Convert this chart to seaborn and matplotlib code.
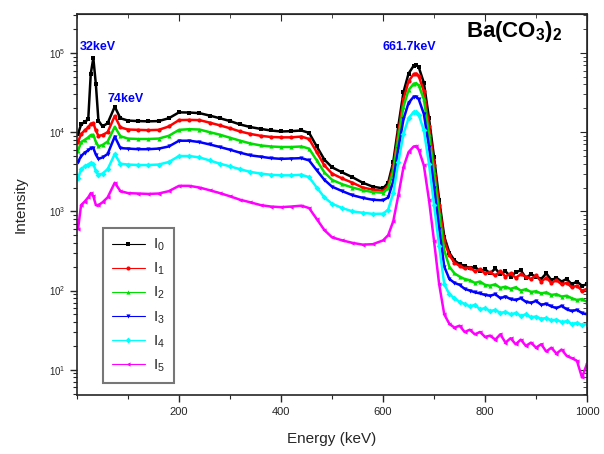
import matplotlib
matplotlib.use("Agg")
import matplotlib.pyplot as plt
import matplotlib.ticker as mticker
import seaborn as sns

# energy grid (keV)
energy = [2, 8, 15, 22, 27, 32, 37, 42, 50, 60,
          74, 85, 100, 120, 140, 160, 180, 200, 220, 240,
          260, 280, 300, 320, 340, 360, 380, 400, 420, 440,
          455, 470, 485, 500, 520, 540, 560, 580, 600, 610,
          620, 630, 640, 650, 660, 665, 670, 680, 690, 700,
          710, 720, 730, 740, 750, 760, 770, 780, 790, 800,
          810, 820, 830, 840, 850, 860, 870, 880, 890, 900,
          910, 920, 930, 940, 950, 960, 970, 980, 990, 1000]

i0 = [9.5e3, 1.25e4, 1.35e4, 1.45e4, 5.5e4, 8.6e4, 4.0e4, 1.4e4, 1.18e4, 1.3e4,
      2.1e4, 1.5e4, 1.4e4, 1.38e4, 1.37e4, 1.38e4, 1.5e4, 1.78e4, 1.77e4, 1.74e4,
      1.62e4, 1.5e4, 1.38e4, 1.25e4, 1.16e4, 1.1e4, 1.05e4, 1.02e4, 1.03e4, 1.05e4,
      9.8e3, 6.6e3, 4.5e3, 3.6e3, 3.1e3, 2.7e3, 2.3e3, 2.05e3, 1.95e3, 2.3e3,
      4.2e3, 1.2e4, 3.2e4, 5.5e4, 6.9e4, 7.05e4, 6.6e4, 4.2e4, 1.5e4, 4.8e3,
      1.4e3, 480, 300, 240, 215, 205, 190, 200, 175, 185,
      165, 190, 160, 175, 150, 170, 180, 145, 160, 150,
      140, 165, 135, 145, 130, 140, 120, 130, 115, 120]

i1 = [7.5e3, 9.5e3, 1.05e4, 1.15e4, 1.28e4, 1.3e4, 1.05e4, 9.0e3, 9.2e3, 1.0e4,
      1.6e4, 1.15e4, 1.08e4, 1.07e4, 1.06e4, 1.07e4, 1.18e4, 1.42e4, 1.43e4, 1.42e4,
      1.32e4, 1.22e4, 1.12e4, 1.02e4, 9.5e3, 9.0e3, 8.7e3, 8.6e3, 8.6e3, 8.8e3,
      8.2e3, 5.6e3, 3.8e3, 3.0e3, 2.6e3, 2.3e3, 2.0e3, 1.88e3, 1.82e3, 2.1e3,
      3.6e3, 1.0e4, 2.6e4, 4.4e4, 5.4e4, 5.5e4, 5.1e4, 3.3e4, 1.2e4, 3.9e3,
      1.2e3, 420, 280, 225, 205, 190, 195, 175, 185, 165,
      170, 155, 175, 150, 165, 145, 160, 150, 140, 155,
      130, 145, 125, 135, 120, 125, 110, 115, 100, 105]

i2 = [5.8e3, 7.5e3, 8.0e3, 8.6e3, 9.2e3, 9.3e3, 7.5e3, 6.6e3, 6.9e3, 7.6e3,
      1.17e4, 8.9e3, 8.3e3, 8.2e3, 8.2e3, 8.3e3, 9.0e3, 1.07e4, 1.09e4, 1.08e4,
      1.0e4, 9.3e3, 8.5e3, 7.8e3, 7.2e3, 6.8e3, 6.6e3, 6.5e3, 6.5e3, 6.6e3,
      6.2e3, 4.4e3, 3.1e3, 2.5e3, 2.2e3, 2.0e3, 1.85e3, 1.75e3, 1.72e3, 1.95e3,
      3.2e3, 8.5e3, 2.1e4, 3.4e4, 4.1e4, 4.15e4, 3.9e4, 2.6e4, 9.5e3, 3.1e3,
      950, 320, 200, 165, 150, 140, 135, 125, 130, 118,
      115, 120, 108, 112, 105, 110, 100, 104, 96, 98,
      92, 95, 88, 90, 84, 86, 80, 76, 78, 72]

i3 = [4.2e3, 5.0e3, 5.5e3, 5.9e3, 6.3e3, 6.3e3, 5.2e3, 4.6e3, 4.8e3, 5.3e3,
      8.8e3, 6.3e3, 6.2e3, 6.1e3, 6.1e3, 6.2e3, 6.6e3, 7.8e3, 7.8e3, 7.5e3,
      7.0e3, 6.5e3, 6.0e3, 5.5e3, 5.1e3, 4.9e3, 4.7e3, 4.6e3, 4.65e3, 4.7e3,
      4.4e3, 3.3e3, 2.5e3, 2.05e3, 1.8e3, 1.6e3, 1.48e3, 1.4e3, 1.38e3, 1.5e3,
      2.4e3, 6.2e3, 1.45e4, 2.35e4, 2.8e4, 2.8e4, 2.6e4, 1.7e4, 6.5e3, 2.0e3,
      600, 200, 140, 125, 118, 105, 100, 95, 92, 88,
      86, 90, 80, 84, 78, 76, 80, 72, 70, 74,
      66, 68, 63, 60, 64, 58, 55, 57, 52, 50]

i4 = [2.6e3, 3.4e3, 3.7e3, 3.9e3, 4.1e3, 4.0e3, 3.2e3, 2.9e3, 3.0e3, 3.4e3,
      5.3e3, 4.0e3, 3.9e3, 3.85e3, 3.85e3, 3.9e3, 4.2e3, 5.0e3, 5.0e3, 4.8e3,
      4.4e3, 4.0e3, 3.7e3, 3.4e3, 3.15e3, 3.0e3, 2.9e3, 2.85e3, 2.85e3, 2.9e3,
      2.7e3, 2.0e3, 1.5e3, 1.25e3, 1.1e3, 1.0e3, 960, 930, 935, 1.05e3,
      1.7e3, 4.2e3, 9.5e3, 1.5e4, 1.8e4, 1.8e4, 1.65e4, 1.05e4, 4.0e3, 1.2e3,
      360, 120, 90, 80, 72, 68, 63, 66, 58, 60,
      55, 57, 52, 54, 50, 52, 48, 50, 46, 47,
      44, 45, 42, 43, 40, 41, 38, 39, 37, 38]

i5 = [600, 1.2e3, 1.33e3, 1.5e3, 1.7e3, 1.55e3, 1.2e3, 1.2e3, 1.3e3, 1.5e3,
      2.3e3, 1.8e3, 1.7e3, 1.68e3, 1.66e3, 1.68e3, 1.8e3, 2.1e3, 2.1e3, 2.0e3,
      1.85e3, 1.7e3, 1.55e3, 1.4e3, 1.3e3, 1.2e3, 1.15e3, 1.13e3, 1.15e3, 1.18e3,
      1.1e3, 800, 580, 470, 430, 400, 380, 385, 430, 500,
      750, 1.6e3, 3.6e3, 5.6e3, 6.6e3, 6.6e3, 6.0e3, 3.8e3, 1.4e3, 420,
      120, 50, 38, 34, 36, 30, 32, 28, 30, 26,
      27, 24, 28, 22, 25, 21, 24, 20, 22, 19,
      21, 17, 19, 16, 18, 15, 14, 13, 8, 12]

series = [i0, i1, i2, i3, i4, i5]
labels = [r"$\mathregular{I_0}$", r"$\mathregular{I_1}$", r"$\mathregular{I_2}$",
          r"$\mathregular{I_3}$", r"$\mathregular{I_4}$", r"$\mathregular{I_5}$"]
colors = ["black", "red", "#00dd00", "blue", "cyan", "magenta"]
markers = ["s", "o", "^", "v", "D", "<"]

sns.set_style("ticks")
plt.rcParams["font.family"] = ["Liberation Sans", "DejaVu Sans"]
plt.rcParams["mathtext.fontset"] = "custom"
plt.rcParams["mathtext.rm"] = "Liberation Sans"
plt.rcParams["mathtext.bf"] = "Liberation Sans:bold"

fig = plt.figure(figsize=(6.04, 4.54), dpi=100)
ax = fig.add_axes([0.1275, 0.130, 0.8445, 0.839])

for vals, lab, col, mk in zip(series, labels, colors, markers):
    sns.lineplot(x=energy, y=vals, ax=ax, color=col, marker=mk, markersize=3,
                 markeredgewidth=0, linewidth=1.8, label=lab, sort=False,
                 estimator=None)

ax.set_yscale("log")
ax.set_xlim(0, 1000)
ax.set_ylim(4.8, 3.1e5)

ax.xaxis.set_major_locator(mticker.FixedLocator([200, 400, 600, 800, 1000]))
ax.xaxis.set_minor_locator(mticker.MultipleLocator(100))
ax.tick_params(axis="x", which="both", direction="out", top=False, labelsize=8)
ax.tick_params(axis="y", which="both", direction="out", right=False, labelsize=7)
ax.tick_params(which="major", length=5, width=1)
ax.tick_params(which="minor", length=3, width=0.8)
# inward ticks on the top and right, Origin style
secx = ax.secondary_xaxis("top")
secx.xaxis.set_major_locator(mticker.FixedLocator([200, 400, 600, 800, 1000]))
secx.xaxis.set_minor_locator(mticker.MultipleLocator(100))
secx.tick_params(which="both", direction="in", labeltop=False)
secx.tick_params(which="major", length=5)
secx.tick_params(which="minor", length=3)
secy = ax.secondary_yaxis("right")
secy.tick_params(which="both", direction="in", labelright=False)
secy.tick_params(which="major", length=5)
secy.tick_params(which="minor", length=3)

for sp in ax.spines.values():
    sp.set_linewidth(1.2)

ax.set_xlabel("Energy (keV)", fontsize=11, labelpad=11)
ax.set_ylabel("Intensity", fontsize=11, labelpad=15)

ax.text(5, 1.19e5, "32keV", color="blue", fontsize=9, fontweight="bold",
        ha="left", va="center")
ax.text(60, 2.6e4, "74keV", color="blue", fontsize=9, fontweight="bold",
        ha="left", va="center")
ax.text(598, 1.19e5, "661.7keV", color="blue", fontsize=9, fontweight="bold",
        ha="left", va="center")
ax.text(858, 1.85e5, r"$\mathbf{Ba(CO_3)_2}$", color="black", fontsize=16,
        ha="center", va="center")

leg = ax.legend(loc="lower left", bbox_to_anchor=(0.035, 0.012), fontsize=11,
                handlelength=2.2, handletextpad=0.5, labelspacing=0.5,
                fancybox=False, edgecolor="#777777", framealpha=1,
                borderpad=0.6)
leg.get_frame().set_linewidth(1.5)
for ln in leg.get_lines():
    ln.set_linewidth(0.8)

fig.savefig("out.png", dpi=100)
